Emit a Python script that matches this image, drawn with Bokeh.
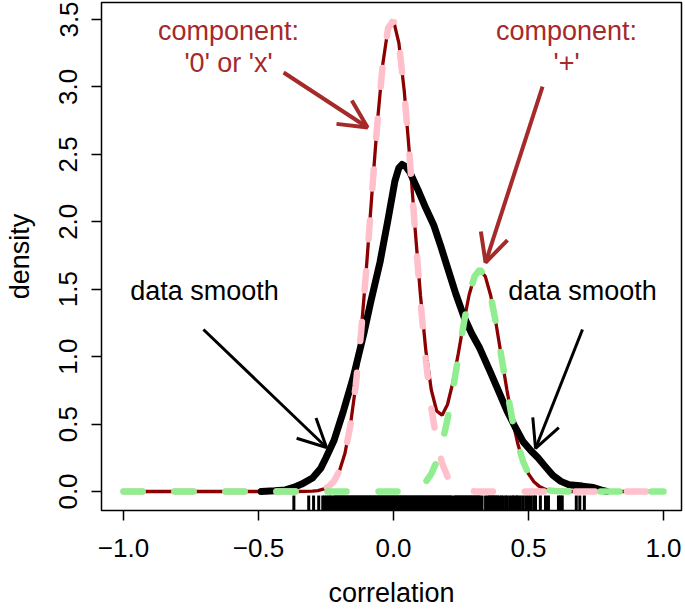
from bokeh.plotting import figure
from bokeh.models import Range1d, Arrow, OpenHead, Label, FixedTicker
from bokeh.embed import file_html
from bokeh.resources import INLINE

# ---------------- data ----------------
x_ticks = [-1.0, -0.5, 0.0, 0.5, 1.0]
x_tick_labels = ["\u22121.0", "\u22120.5", "0.0", "0.5", "1.0"]
y_ticks = [0.0, 0.5, 1.0, 1.5, 2.0, 2.5, 3.0, 3.5]
y_tick_labels = ["0.0", "0.5", "1.0", "1.5", "2.0", "2.5", "3.0", "3.5"]

grid_x = [-1.0, -0.5, -0.36,
          -0.30, -0.28, -0.26, -0.24, -0.22, -0.20, -0.18, -0.16, -0.14, -0.12,
          -0.10, -0.08, -0.06, -0.04, -0.02, 0.00, 0.02, 0.04, 0.06, 0.08,
          0.10, 0.12, 0.14, 0.16, 0.18, 0.20, 0.22, 0.24, 0.26, 0.28,
          0.30, 0.32, 0.34, 0.36, 0.38, 0.40, 0.42, 0.44, 0.46, 0.48,
          0.50, 0.52, 0.54, 0.56, 0.58, 0.60,
          0.66, 0.75, 1.0]

# mixture density (dark red)
mixture_y = [0, 0, 0,
             0.003, 0.007, 0.017, 0.037, 0.078, 0.154, 0.282, 0.486, 0.783, 1.180,
             1.666, 2.205, 2.729, 3.165, 3.436, 3.493, 3.325, 2.967, 2.482, 1.950,
             1.452, 1.041, 0.753, 0.597, 0.566, 0.645, 0.809, 1.023, 1.253, 1.457,
             1.596, 1.646, 1.595, 1.453, 1.242, 0.998, 0.754, 0.534, 0.356, 0.223,
             0.131, 0.072, 0.038, 0.018, 0.008, 0.004,
             0, 0, 0]

# component '0' or 'x' (pink dashed)
comp0_y = [0, 0, 0,
           0.003, 0.007, 0.017, 0.037, 0.078, 0.154, 0.282, 0.486, 0.783, 1.180,
           1.666, 2.205, 2.729, 3.165, 3.436, 3.493, 3.325, 2.963, 2.474, 1.932,
           1.414, 0.969, 0.622, 0.374, 0.210, 0.111, 0.055, 0.025, 0.011, 0.004,
           0.001, 0, 0, 0, 0, 0, 0, 0, 0, 0,
           0, 0, 0, 0, 0, 0,
           0, 0, 0]

# component '+' (light green dashed)
comp_plus_y = [0, 0, 0,
               0, 0, 0, 0, 0, 0, 0, 0, 0, 0,
               0, 0, 0, 0, 0, 0, 0, 0.004, 0.008, 0.018,
               0.038, 0.072, 0.131, 0.223, 0.356, 0.534, 0.754, 0.998, 1.242, 1.453,
               1.595, 1.646, 1.595, 1.453, 1.242, 0.998, 0.754, 0.534, 0.356, 0.223,
               0.131, 0.072, 0.038, 0.018, 0.008, 0.004,
               0, 0, 0]

# data smooth (black)
smooth_x = [-0.49, -0.44, -0.40, -0.37, -0.34, -0.30, -0.27, -0.25, -0.22, -0.185,
            -0.15, -0.11, -0.085, -0.05, -0.02, 0.005, 0.02, 0.032, 0.045, 0.06,
            0.09, 0.12, 0.15, 0.175, 0.20, 0.23, 0.26, 0.29, 0.32, 0.36,
            0.39, 0.42, 0.45, 0.48, 0.51, 0.535, 0.56, 0.59, 0.62, 0.65,
            0.70, 0.74, 0.77, 0.79]
smooth_y = [0.0, 0.005, 0.012, 0.03, 0.055, 0.10, 0.17, 0.25, 0.38, 0.60,
            0.84, 1.17, 1.40, 1.70, 2.02, 2.30, 2.40, 2.425, 2.41, 2.37,
            2.24, 2.10, 1.97, 1.82, 1.66, 1.47, 1.30, 1.17, 1.06, 0.88,
            0.74, 0.60, 0.48, 0.37, 0.30, 0.25, 0.19, 0.12, 0.075, 0.05,
            0.04, 0.03, 0.01, 0.0]

# rug of observed correlations
rug_x = [-0.369, -0.314, -0.296, -0.277, -0.262, -0.255, -0.248, -0.240, -0.235, -0.228,
         -0.220, -0.215, -0.210, -0.205, -0.200, -0.195, -0.190, -0.185, -0.180, -0.175,
         -0.170, -0.165, -0.160, -0.155, -0.150, -0.145, -0.140, -0.135, -0.130, -0.125,
         -0.120, -0.115, -0.110, -0.105, -0.100, -0.095, -0.090, -0.085, -0.080, -0.075,
         -0.070, -0.065, -0.060, -0.055, -0.050, -0.045, -0.040, -0.035, -0.030, -0.025,
         -0.020, -0.015, -0.010, -0.005, 0.000, 0.005, 0.010, 0.015, 0.020, 0.025,
         0.030, 0.035, 0.040, 0.045, 0.050, 0.055, 0.060, 0.065, 0.070, 0.075,
         0.080, 0.085, 0.090, 0.095, 0.100, 0.105, 0.110, 0.115, 0.120, 0.125,
         0.130, 0.135, 0.140, 0.145, 0.150, 0.155, 0.160, 0.165, 0.170, 0.175,
         0.180, 0.185, 0.190, 0.195, 0.200, 0.205, 0.210, 0.215, 0.225, 0.230,
         0.235, 0.240, 0.245, 0.250, 0.255, 0.260, 0.265, 0.270, 0.275, 0.280,
         0.285, 0.290, 0.295, 0.300, 0.305, 0.310, 0.315, 0.320,
         0.328, 0.341, 0.350, 0.355, 0.360, 0.365, 0.370, 0.375, 0.380, 0.385,
         0.392, 0.400, 0.405, 0.415, 0.420, 0.430, 0.440, 0.445, 0.455, 0.460,
         0.470, 0.480, 0.490, 0.500, 0.510, 0.520, 0.526, 0.544, 0.563, 0.574,
         0.611, 0.618, 0.625, 0.677, 0.690, 0.707]

# ---------------- figure ----------------
FONT = "Liberation Sans"
BROWN = "#A52A2A"
X0, X1 = -1.0815, 1.0667
Y0, Y1 = -0.1409, 3.626

p = figure(width=685, height=610, x_range=Range1d(X0, X1), y_range=Range1d(Y0, Y1),
           output_backend="svg", toolbar_location=None,
           min_border_left=101, min_border_right=4, min_border_top=2, min_border_bottom=100)
p.background_fill_color = "white"
p.border_fill_color = "white"
p.grid.visible = False
p.outline_line_color = "black"
p.outline_line_width = 1.5

for ax in (p.xaxis[0], p.yaxis[0]):
    ax.axis_line_color = None
    ax.major_tick_line_color = "black"
    ax.major_tick_line_width = 1.5
    ax.major_tick_out = 10
    ax.major_tick_in = 0
    ax.minor_tick_line_color = None
    ax.major_label_text_font = FONT
    ax.major_label_text_font_size = "26px"
    ax.major_label_text_color = "black"
    ax.axis_label_text_font = FONT
    ax.axis_label_text_font_size = "27px"
    ax.axis_label_text_font_style = "normal"
    ax.axis_label_text_color = "black"

p.xaxis.ticker = FixedTicker(ticks=x_ticks)
p.xaxis.major_label_overrides = {t: s for t, s in zip(x_ticks, x_tick_labels)}
p.xaxis.major_label_standoff = 18
p.xaxis.axis_label = "correlation"
p.xaxis.axis_label_standoff = 18

p.yaxis.ticker = FixedTicker(ticks=y_ticks)
p.yaxis.major_label_overrides = {t: s for t, s in zip(y_ticks, y_tick_labels)}
p.yaxis.major_label_orientation = "vertical"
p.yaxis.major_label_standoff = 14
p.yaxis.axis_label = "density"
p.yaxis.axis_label_standoff = 22

# rug
rug_top = Y0 + 0.111
p.segment(x0=rug_x, y0=[Y0] * len(rug_x), x1=rug_x, y1=[rug_top] * len(rug_x),
          line_color="black", line_width=3)

# curves
p.line(grid_x, mixture_y, line_color="#8B0000", line_width=3.3)
p.line(smooth_x, smooth_y, line_color="black", line_width=7, line_join="round", line_cap="round")
p.line(grid_x, comp0_y, line_color="#FFC0CB", line_width=6.5, line_dash="19 32", line_cap="round")
p.line(grid_x, comp_plus_y, line_color="#90EE90", line_width=6.5, line_dash="19 32", line_cap="round")

# annotations
def add_text(x, y, t, color):
    p.add_layout(Label(x=x, y=y, text=t, text_font=FONT, text_font_size="27px",
                       text_color=color, text_align="center", text_baseline="alphabetic"))

add_text(-0.611, 3.414, "component:", BROWN)
add_text(-0.611, 3.174, "'0' or 'x'", BROWN)
add_text(0.641, 3.414, "component:", BROWN)
add_text(0.641, 3.174, "'+'", BROWN)
add_text(-0.70, 1.485, "data smooth", "black")
add_text(0.70, 1.485, "data smooth", "black")

def add_arrow(xs, ys, xe, ye, color, w):
    p.add_layout(Arrow(end=OpenHead(size=28, line_color=color, line_width=w),
                       x_start=xs, y_start=ys, x_end=xe, y_end=ye,
                       line_color=color, line_width=w))

add_arrow(-0.407, 3.107, -0.096, 2.699, BROWN, 4)
add_arrow(0.552, 3.003, 0.341, 1.698, BROWN, 4)
add_arrow(-0.704, 1.201, -0.248, 0.326, "black", 3)
add_arrow(0.70, 1.201, 0.526, 0.319, "black", 3)

open("out.html", "w").write(file_html(p, INLINE))
